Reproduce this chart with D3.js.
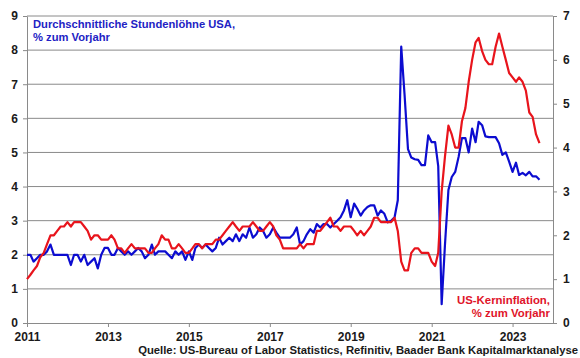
<!DOCTYPE html>
<meta charset="utf-8">
<script src="https://d3js.org/d3.v7.min.js"></script>
<style>
body { margin: 0; background: #fff; }
svg text { font-family: Arial, "Liberation Sans", sans-serif; font-weight: bold; }
</style>
<body>
<svg id="chart" width="580" height="358"></svg>
<script>

// monthly values, Jan 2011 .. Sep 2023
var startYear = 2011;

// average hourly earnings USA, % y/y (left axis)
var wages = [
  2.0, 2.0, 1.8, 1.9, 2.0, 2.0, 2.1, 2.3, 2.0, 2.0, 2.0, 2.0,
  2.0, 1.7, 2.0, 2.0, 1.8, 2.0, 1.7, 1.8, 1.9, 1.6, 2.0, 2.2,
  2.2, 2.0, 2.0, 2.2, 2.1, 2.0, 2.1, 2.0, 2.1, 2.2, 2.1, 1.9,
  2.0, 2.3, 2.0, 2.1, 2.1, 2.1, 2.0, 1.9, 2.1, 2.0, 2.1, 1.85,
  2.1, 1.85, 2.2, 2.3, 2.2, 2.3, 2.2, 2.1, 2.2, 2.5, 2.3, 2.4,
  2.5, 2.4, 2.6, 2.4, 2.6, 2.5, 2.8, 2.5, 2.6, 2.8, 2.7, 2.5,
  2.6, 2.8, 2.65, 2.5, 2.5, 2.5, 2.5, 2.6, 2.8, 2.3, 2.4, 2.6,
  2.75, 2.65, 2.9, 2.8, 2.9, 2.9, 2.8, 2.9, 3.0, 3.1, 3.3, 3.6,
  3.1, 3.5, 3.35, 3.15, 3.3, 3.4, 3.45, 3.45, 3.15, 3.3, 3.2, 2.95,
  3.0, 3.1, 3.6, 8.1, 6.7, 5.1, 4.85, 4.8, 4.78, 4.63, 4.63, 5.5,
  5.3, 5.3, 4.6, 0.55, 2.3, 3.9, 4.28, 4.43, 4.87, 5.42, 5.42, 5.0,
  5.7, 5.3, 5.9, 5.8, 5.47, 5.45, 5.45, 5.45, 5.27, 4.93, 5.0, 4.73,
  4.43, 4.7, 4.34, 4.4, 4.33, 4.43, 4.3, 4.3, 4.2
];

// US core inflation, % y/y (right axis)
var coreCpi = [
  1.0, 1.1, 1.2, 1.3, 1.5, 1.6, 1.8, 2.0, 2.0, 2.1, 2.2, 2.2,
  2.3, 2.2, 2.3, 2.3, 2.3, 2.2, 2.1, 1.9, 2.0, 2.0, 1.9, 1.9,
  1.9, 2.0, 1.9, 1.7, 1.7, 1.6, 1.7, 1.8, 1.7, 1.7, 1.7, 1.7,
  1.6, 1.6, 1.7, 1.8, 2.0, 1.9, 1.9, 1.7, 1.7, 1.8, 1.7, 1.6,
  1.6, 1.7, 1.8, 1.8, 1.7, 1.8, 1.8, 1.8, 1.9, 1.9, 2.0, 2.1,
  2.2, 2.3, 2.2, 2.1, 2.2, 2.2, 2.2, 2.3, 2.2, 2.1, 2.1, 2.2,
  2.3, 2.2, 2.0, 1.9, 1.7, 1.7, 1.7, 1.7, 1.7, 1.8, 1.7, 1.8,
  1.8, 1.8, 2.1, 2.1, 2.2, 2.3, 2.4, 2.2, 2.2, 2.1, 2.2, 2.2,
  2.2, 2.1, 2.0, 2.1, 2.0, 2.1, 2.2, 2.4, 2.4, 2.3, 2.3, 2.3,
  2.3, 2.4, 2.1, 1.4, 1.2, 1.2, 1.6, 1.7, 1.7, 1.6, 1.6, 1.6,
  1.4, 1.3, 1.6, 3.0, 3.8, 4.5, 4.3, 4.0, 4.0, 4.6, 4.9, 5.5,
  6.0, 6.4, 6.5, 6.2, 6.0, 5.9, 5.9, 6.3, 6.6, 6.3, 6.0, 5.7,
  5.6, 5.5, 5.6, 5.5, 5.3, 4.8, 4.7, 4.3, 4.1
];

var yearTicks = [2011, 2013, 2015, 2017, 2019, 2021, 2023];
var leftTicks = [0, 1, 2, 3, 4, 5, 6, 7, 8, 9];
var rightTicks = [0, 1, 2, 3, 4, 5, 6, 7];

var svg = d3.select("#chart");
var plotLeft = 27, plotRight = 553, plotTop = 16, plotBottom = 323;

var x = d3.scaleTime()
  .domain([new Date(startYear, 0, 1), new Date(2024, 0, 1)])
  .range([plotLeft, plotRight]);
var yL = d3.scaleLinear().domain([0, 9]).range([plotBottom, plotTop]);
var yR = d3.scaleLinear().domain([0, 7]).range([plotBottom, plotTop]);

function month(i) { return new Date(startYear, i, 1); }

// horizontal grid lines
svg.append("g")
  .selectAll("line")
  .data(leftTicks.slice(1))
  .enter().append("line")
    .attr("x1", plotLeft).attr("x2", plotRight)
    .attr("y1", function(d) { return yL(d); })
    .attr("y2", function(d) { return yL(d); })
    .attr("stroke", "#8a8a8a")
    .attr("stroke-width", 1);

// axes
var axL = svg.append("g")
  .attr("transform", "translate(" + plotLeft + ",0)")
  .call(d3.axisLeft(yL).tickValues(leftTicks).tickSize(4).tickSizeOuter(0).tickPadding(5).tickFormat(d3.format("d")));
var axR = svg.append("g")
  .attr("transform", "translate(" + plotRight + ",0)")
  .call(d3.axisRight(yR).tickValues(rightTicks).tickSize(4).tickSizeOuter(0).tickPadding(6).tickFormat(d3.format("d")));
var axB = svg.append("g")
  .attr("transform", "translate(0," + plotBottom + ")")
  .call(d3.axisBottom(x).tickValues(yearTicks.map(function(y) { return new Date(y, 0, 1); }))
    .tickSize(4).tickSizeOuter(0).tickPadding(5).tickFormat(d3.timeFormat("%Y")));

[axL, axR, axB].forEach(function(a) {
  a.selectAll("path, line").attr("stroke", "#8a8a8a");
  a.selectAll("text").attr("fill", "#1a1a1a").style("font-size", "12px").style("font-family", "Arial, 'Liberation Sans', sans-serif").style("font-weight", "bold");
});

// lines
var lineL = d3.line().x(function(d, i) { return x(month(i)); }).y(function(d) { return yL(d); });
var lineR = d3.line().x(function(d, i) { return x(month(i)); }).y(function(d) { return yR(d); });

svg.append("path")
  .datum(wages)
  .attr("d", lineL)
  .attr("fill", "none")
  .attr("stroke", "#0c0cd0")
  .attr("stroke-width", 2.2)
  .attr("stroke-linejoin", "round");

svg.append("path")
  .datum(coreCpi)
  .attr("d", lineR)
  .attr("fill", "none")
  .attr("stroke", "#e8141c")
  .attr("stroke-width", 2.2)
  .attr("stroke-linejoin", "round");

// labels
var t1 = svg.append("text").attr("x", 33).attr("y", 28).attr("fill", "#2222c4").style("font-size", "11.2px");
t1.append("tspan").attr("x", 33).text("Durchschnittliche Stundenlöhne USA,");
t1.append("tspan").attr("x", 33).attr("dy", 13).text("% zum Vorjahr");

var t2 = svg.append("text").attr("x", 550).attr("y", 304).attr("fill", "#e0142a")
  .attr("text-anchor", "end").style("font-size", "11.4px");
t2.append("tspan").attr("x", 550).text("US-Kerninflation,");
t2.append("tspan").attr("x", 550).attr("dy", 13).text("% zum Vorjahr");

svg.append("text")
  .attr("x", 578).attr("y", 354)
  .attr("text-anchor", "end")
  .attr("fill", "#1a1a1a")
  .style("font-size", "11.3px")
  .text("Quelle: US-Bureau of Labor Statistics, Refinitiv, Baader Bank Kapitalmarktanalyse");

</script>
</body>
